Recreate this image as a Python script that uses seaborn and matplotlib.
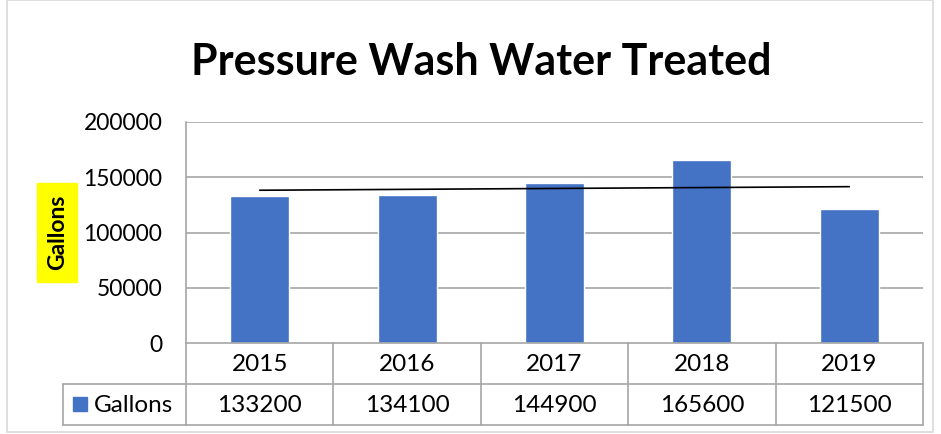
import numpy as np
import pandas as pd
import matplotlib
matplotlib.use("Agg")
import matplotlib.pyplot as plt
import matplotlib.transforms as mtransforms
import seaborn as sns

years = ["2015", "2016", "2017", "2018", "2019"]
gallons = [133200, 134100, 144900, 165600, 121500]
series_name = "Gallons"
title = "Pressure Wash Water Treated"
yticks = [0, 50000, 100000, 150000, 200000]

sns.set_theme(style="white")
plt.rcParams['font.family'] = ['Lato', 'DejaVu Sans']

W, H = 941, 434
fig = plt.figure(figsize=(W / 100, H / 100), dpi=100)

def fx(px):
    return px / W

def fy(py):
    return 1 - py / H

FS = 17.5
left, right, top, bottom = 186, 923, 122, 343
ax = fig.add_axes([fx(left), fy(bottom), fx(right - left), (bottom - top) / H])

df = pd.DataFrame({"year": years, "gallons": gallons})
bar_color = "#4472C4"
sns.barplot(data=df, x="year", y="gallons", color=bar_color, width=0.4,
            saturation=1, ax=ax, zorder=3)
ax.set_xlim(-0.5, len(years) - 0.5)
ax.set_ylim(0, 200000)
ax.set_yticks(yticks)
ax.set_yticklabels([str(t) for t in yticks], fontsize=16.5, color="#000000")
ax.tick_params(axis="y", length=0, pad=17)
ax.set_xticks([])
ax.set_xlabel("")
ax.set_ylabel("")
grid_color = "#A6A6A6"
for t in yticks[1:]:
    ax.axhline(t, color=grid_color, lw=1.2, zorder=1)
for s in ["top", "right", "bottom"]:
    ax.spines[s].set_visible(False)
ax.spines["left"].set_color(grid_color)
ax.spines["left"].set_linewidth(1.2)

# Linear trendline
xs = np.arange(len(gallons))
coef = np.polyfit(xs, gallons, 1)
ax.plot(xs, np.polyval(coef, xs), color="black", lw=1.2, zorder=4)

# Data table below the plot
trans = mtransforms.blended_transform_factory(ax.transData, fig.transFigure)
row1_top, row1_bot, row2_bot = 343, 384, 425
leg_left = 63
line_kw = dict(color=grid_color, lw=1.2, transform=fig.transFigure)
fig.add_artist(plt.Line2D([fx(left), fx(right)], [fy(row1_top)] * 2, **line_kw))
fig.add_artist(plt.Line2D([fx(leg_left), fx(right)], [fy(row1_bot)] * 2, **line_kw))
fig.add_artist(plt.Line2D([fx(leg_left), fx(right)], [fy(row2_bot)] * 2, **line_kw))
fig.add_artist(plt.Line2D([fx(leg_left)] * 2, [fy(row1_bot), fy(row2_bot)], **line_kw))
fig.add_artist(plt.Line2D([fx(left)] * 2, [fy(row1_top), fy(row2_bot)], **line_kw))
for i in range(len(years)):
    fig.add_artist(plt.Line2D([i + 0.5] * 2, [fy(row1_top), fy(row2_bot)],
                              color=grid_color, lw=1.2, transform=trans))
for i, (yr, v) in enumerate(zip(years, gallons)):
    fig.text(i, fy((row1_top + row1_bot) / 2 + 1), yr, transform=trans,
             ha="center", va="center", fontsize=FS, color="black")
    fig.text(i, fy((row1_bot + row2_bot) / 2 + 1), str(v), transform=trans,
             ha="center", va="center", fontsize=FS, color="black")
fig.add_artist(plt.Rectangle((fx(73), fy(411)), fx(14), 14 / H, color=bar_color,
                             transform=fig.transFigure))
fig.text(fx(94), fy((row1_bot + row2_bot) / 2 + 1), series_name, ha="left",
         va="center", fontsize=FS, color="black")

# Axis title with yellow highlight
fig.add_artist(plt.Rectangle((fx(37), fy(282)), fx(40), 99 / H, color="#FFFF00",
                             transform=fig.transFigure, zorder=0))
fig.text(fx(58), fy(232), "Gallons", rotation=90, ha="center", va="center",
         fontsize=16.5, fontweight="bold", color="black", zorder=1)

# Title
fig.text(fx(481), fy(62), title, ha="center", va="center", fontsize=31,
         fontweight="bold", color="black")

# chart border
fig.add_artist(plt.Rectangle((fx(7), fy(432)), fx(926), 432 / H, fill=False,
                             ec="#D9D9D9", lw=1.2, transform=fig.transFigure))

fig.savefig("out.png", dpi=100)
